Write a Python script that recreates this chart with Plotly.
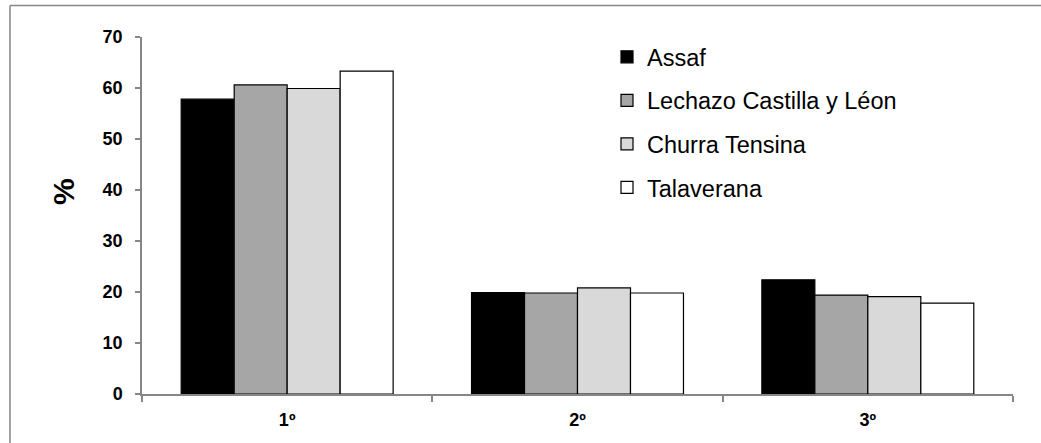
import plotly.graph_objects as go

# Category labels on the x axis
categories = ["1º", "2º", "3º"]

# Percentage per breed and category
assaf = [57.8, 19.9, 22.4]
lechazo = [60.6, 19.8, 19.4]
churra = [59.9, 20.8, 19.1]
talaverana = [63.3, 19.8, 17.8]

series_names = ["Assaf", "Lechazo Castilla y Léon", "Churra Tensina", "Talaverana"]
series_values = [assaf, lechazo, churra, talaverana]
series_colors = ["#000000", "#A6A6A6", "#D9D9D9", "#FFFFFF"]

y_ticks = [0, 10, 20, 30, 40, 50, 60, 70]

W, H = 1041, 443
ML, MR, MT, MB = 142, 28, 37, 49
plot_w = W - ML - MR
plot_h = H - MT - MB

FONT = "Arial, Liberation Sans, sans-serif"

fig = go.Figure()
for i, (name, vals, col) in enumerate(zip(series_names, series_values, series_colors)):
    fig.add_trace(go.Bar(
        x=categories, y=vals, name=name,
        marker=dict(color=col, line=dict(color="#000000", width=1.2)),
        legendgroup=f"g{i}",
    ))

def px_to_paper_x(px):
    return (px - ML) / plot_w

def px_to_paper_y(py):
    return (H - MB - py) / plot_h

axis_grey = "#868686"
fig.update_layout(
    width=W, height=H,
    margin=dict(l=ML, r=MR, t=MT, b=MB, autoexpand=False),
    paper_bgcolor="#FFFFFF", plot_bgcolor="#FFFFFF",
    barmode="group", bargap=0.27, bargroupgap=0,
    font=dict(family=FONT, color="#000000"),
    showlegend=True,
    legend=dict(
        x=px_to_paper_x(607), xanchor="left",
        y=px_to_paper_y(35), yanchor="top",
        font=dict(size=23.5, family=FONT),
        tracegroupgap=10, bgcolor="rgba(0,0,0,0)",
        itemclick=False,
    ),
    xaxis=dict(
        type="category", showline=True, linecolor=axis_grey, linewidth=1.5,
        ticks="outside", tickson="boundaries", ticklen=6, tickcolor=axis_grey, tickwidth=1.5,
        tickfont=dict(size=18, family=FONT, weight="bold"),
        ticklabelstandoff=9, showgrid=False, zeroline=False, fixedrange=True,
    ),
    yaxis=dict(
        range=[0, 70], tickvals=y_ticks, showline=True, linecolor=axis_grey, linewidth=1.5,
        ticks="outside", ticklen=5, tickcolor=axis_grey, tickwidth=1.5,
        tickfont=dict(size=18, family=FONT, weight="bold"),
        ticklabelstandoff=9, showgrid=False, zeroline=False, fixedrange=True,
    ),
    annotations=[
        dict(text="%", textangle=-90, xref="paper", yref="paper",
             x=px_to_paper_x(63), y=px_to_paper_y(192), xanchor="center", yanchor="middle",
             showarrow=False, font=dict(size=30, family=FONT, weight="bold")),
    ],
    shapes=[
        dict(type="line", xref="paper", yref="paper",
             x0=px_to_paper_x(10), x1=px_to_paper_x(W), y0=px_to_paper_y(5.5), y1=px_to_paper_y(5.5),
             line=dict(color=axis_grey, width=1.5)),
        dict(type="line", xref="paper", yref="paper",
             x0=px_to_paper_x(10), x1=px_to_paper_x(10), y0=px_to_paper_y(5.5), y1=px_to_paper_y(H),
             line=dict(color=axis_grey, width=1.5)),
    ],
)

fig.write_html("out.html")
